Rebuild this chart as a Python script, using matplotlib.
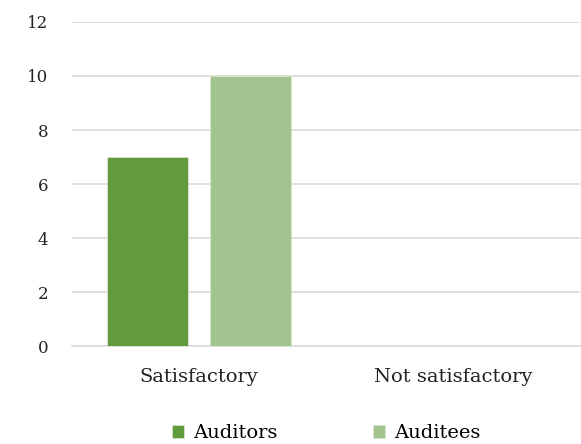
import matplotlib
matplotlib.use("Agg")
import matplotlib.pyplot as plt
import numpy as np

categories = ["Satisfactory", "Not satisfactory"]
auditors = [7, 0]
auditees = [10, 0]
series_names = ["Auditors", "Auditees"]
yticks = [0, 2, 4, 6, 8, 10, 12]

plt.rcParams['font.family'] = ['DejaVu Serif']

fig = plt.figure(figsize=(5.81, 4.44), dpi=100)
ax = fig.add_axes([72/581, 1-346/444, 508/581, (346-22)/444])

x = np.arange(len(categories))
w = 0.319
gap = 0.087
c1 = "#629a3e"
c2 = "#a2c48e"
ax.bar(x - (w+gap)/2, auditors, w, color=c1, edgecolor="#d9e6cf", linewidth=0.6, label=series_names[0], zorder=3)
ax.bar(x + (w+gap)/2, auditees, w, color=c2, edgecolor="#d9e6cf", linewidth=0.6, label=series_names[1], zorder=3)

ax.set_xlim(-0.5, 1.5)
ax.set_ylim(0, 12)
ax.set_yticks(yticks)
ax.set_yticklabels([str(t) for t in yticks], fontsize=12, color="#222222")
ax.set_xticks(x)
ax.set_xticklabels(categories, fontsize=14, color="#222222")
ax.tick_params(axis='both', length=0)
ax.tick_params(axis='y', pad=17)
ax.tick_params(axis='x', pad=16)
ax.yaxis.grid(True, color="#d9d9d9", linewidth=1.2, zorder=0)
for s in ["top", "right", "left"]:
    ax.spines[s].set_visible(False)
ax.spines["bottom"].set_color("#d9d9d9")
ax.spines["bottom"].set_linewidth(1.2)

leg = fig.legend(loc="center", bbox_to_anchor=(326/581, 1-433/444), ncol=2, frameon=False,
                 fontsize=14, handlelength=0.65, handleheight=0.65, handletextpad=0.45, columnspacing=4.9)
fig.savefig("out.png", dpi=100)
